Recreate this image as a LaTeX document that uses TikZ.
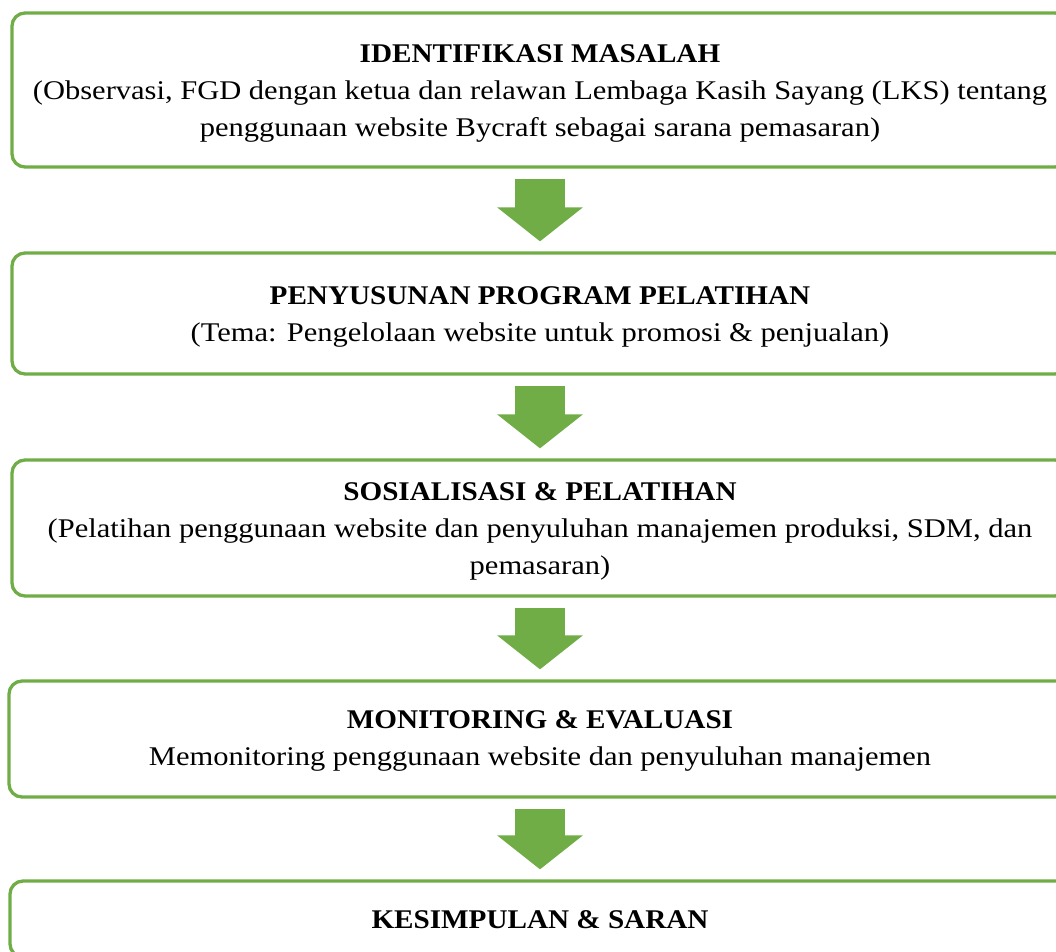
\documentclass[tikz,border=0pt]{standalone}
\usepackage{fontspec}
\setmainfont{Liberation Serif}[UprightFeatures={FakeStretch=1.13}, BoldFeatures={FakeStretch=1.08}]
\usetikzlibrary{arrows.meta}
\definecolor{lkgreen}{HTML}{70AD47}
\tikzset{
  stagebox/.style={draw=lkgreen, line width=3.3pt, rounded corners=13pt, fill=white,
    inner sep=0pt, minimum width=1056pt},
  stagetext/.style={align=center, inner sep=0pt,
    font=\fontsize{27}{37}\selectfont},
  bigarrow/.style={draw=lkgreen, line width=50pt,
    -{Triangle[width=84pt,length=34pt,fill=lkgreen]}}
}
\begin{document}
\begin{tikzpicture}[x=1pt,y=1pt]
\useasboundingbox (0,0) rectangle (1056,-951);
\node[stagebox, minimum height=154pt] (b1) at (540,-90) {};
\node[stagetext] (t1) at ([yshift=-3pt]b1.center)
  {\textbf{IDENTIFIKASI MASALAH}\\(Observasi, FGD dengan ketua dan relawan Lembaga Kasih Sayang (LKS) tentang\\penggunaan website Bycraft sebagai sarana pemasaran)};
\node[stagebox, minimum height=121pt] (b2) at (540,-313.5) {};
\node[stagetext] (t2) at ([yshift=-3pt]b2.center)
  {\textbf{PENYUSUNAN PROGRAM PELATIHAN}\\(Tema: Pengelolaan website untuk promosi \& penjualan)};
\node[stagebox, minimum height=136pt] (b3) at (540,-528) {};
\node[stagetext] (t3) at ([yshift=-3pt]b3.center)
  {\textbf{SOSIALISASI \& PELATIHAN}\\(Pelatihan penggunaan website dan penyuluhan manajemen produksi, SDM, dan\\pemasaran)};
\node[stagebox, minimum height=116pt, minimum width=1062pt] (b4) at (540,-739) {};
\node[stagetext] (t4) at ([yshift=-2pt]b4.center)
  {\textbf{MONITORING \& EVALUASI}\\Memonitoring penggunaan website dan penyuluhan manajemen};
\node[stagebox, minimum height=76pt, minimum width=1060pt] (b5) at (540,-919) {};
\node[stagetext] (t5) at ([yshift=-1pt]b5.center) {\textbf{KESIMPULAN \& SARAN}};
\draw[bigarrow] ([yshift=-10pt]b1.south) -- ([yshift=10pt]b2.north);
\draw[bigarrow] ([yshift=-10pt]b2.south) -- ([yshift=10pt]b3.north);
\draw[bigarrow] ([yshift=-10pt]b3.south) -- ([yshift=10pt]b4.north);
\draw[bigarrow] ([yshift=-10pt]b4.south) -- ([yshift=10pt]b5.north);
\end{tikzpicture}
\end{document}
